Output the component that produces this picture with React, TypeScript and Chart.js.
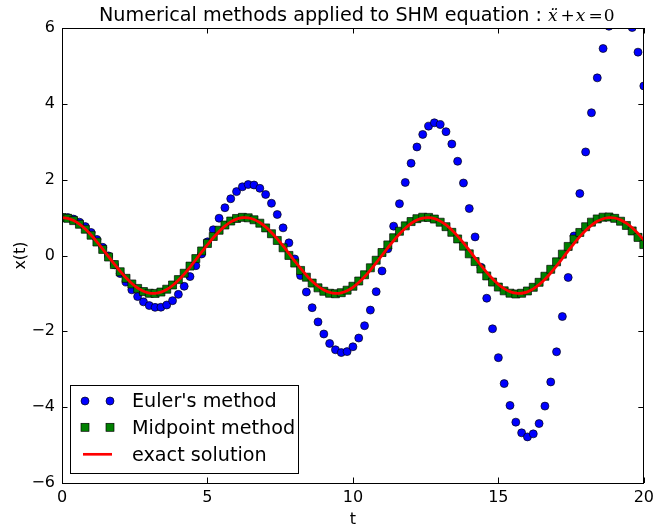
import { useEffect, useRef } from "react";
import { Chart, registerables } from "chart.js";

Chart.register(...registerables);

const tValues = [
  0, 0.2, 0.4, 0.6, 0.8, 1, 1.2, 1.4, 1.6, 1.8, 2, 2.2, 2.4, 2.6, 2.8, 3, 3.2, 3.4, 3.6, 3.8,
  4, 4.2, 4.4, 4.6, 4.8, 5, 5.2, 5.4, 5.6, 5.8, 6, 6.2, 6.4, 6.6, 6.8, 7, 7.2, 7.4, 7.6, 7.8,
  8, 8.2, 8.4, 8.6, 8.8, 9, 9.2, 9.4, 9.6, 9.8, 10, 10.2, 10.4, 10.6, 10.8, 11, 11.2, 11.4, 11.6, 11.8,
  12, 12.2, 12.4, 12.6, 12.8, 13, 13.2, 13.4, 13.6, 13.8, 14, 14.2, 14.4, 14.6, 14.8, 15, 15.2, 15.4, 15.6, 15.8,
  16, 16.2, 16.4, 16.6, 16.8, 17, 17.2, 17.4, 17.6, 17.8, 18, 18.2, 18.4, 18.6, 18.8, 19, 19.2, 19.4, 19.6, 19.8,
  20,
];

const eulerX = [
  1.0, 1.0, 0.96, 0.88, 0.762, 0.608, 0.424, 0.216, -0.01, -0.244,
  -0.477, -0.701, -0.906, -1.083, -1.223, -1.32, -1.368, -1.364, -1.305, -1.191,
  -1.025, -0.811, -0.556, -0.269, 0.04, 0.36, 0.679, 0.983, 1.26, 1.497,
  1.685, 1.812, 1.872, 1.859, 1.772, 1.61, 1.378, 1.081, 0.729, 0.333,
  -0.091, -0.529, -0.963, -1.376, -1.751, -2.07, -2.32, -2.486, -2.56, -2.535,
  -2.407, -2.177, -1.852, -1.44, -0.953, -0.407, 0.176, 0.774, 1.366, 1.926,
  2.433, 2.862, 3.193, 3.411, 3.5, 3.453, 3.266, 2.941, 2.485, 1.912,
  1.239, 0.49, -0.309, -1.127, -1.933, -2.694, -3.378, -3.954, -4.395, -4.677,
  -4.784, -4.704, -4.432, -3.972, -3.335, -2.539, -1.61, -0.579, 0.516, 1.634,
  2.732, 3.765, 4.685, 5.459, 6.045, 6.412, 6.536, 6.404, 6.012, 5.363,
  4.472,
];

const midpointX = [
  1.0, 0.98, 0.92, 0.824, 0.693, 0.535, 0.355, 0.161, -0.04, -0.24,
  -0.429, -0.602, -0.75, -0.868, -0.951, -0.996, -1.0, -0.964, -0.889, -0.778,
  -0.636, -0.468, -0.28, -0.082, 0.12, 0.318, 0.502, 0.666, 0.804, 0.909,
  0.977, 1.006, 0.994, 0.942, 0.852, 0.728, 0.574, 0.397, 0.203, 0.002,
  -0.2, -0.394, -0.572, -0.727, -0.853, -0.944, -0.996, -1.009, -0.981, -0.915,
  -0.811, -0.673, -0.508, -0.324, -0.125, 0.079, 0.28, 0.469, 0.64, 0.782,
  0.895, 0.971, 1.009, 1.005, 0.961, 0.878, 0.76, 0.611, 0.437, 0.246,
  0.044, -0.16, -0.357, -0.539, -0.701, -0.833, -0.932, -0.994, -1.015, -0.996,
  -0.936, -0.839, -0.707, -0.547, -0.364, -0.167, 0.036, 0.239, 0.432, 0.608,
  0.759, 0.88, 0.965, 1.01, 1.016, 0.98, 0.904, 0.793, 0.648, 0.478,
  0.288,
];

const exactX = [
  1.0, 0.98, 0.921, 0.825, 0.697, 0.54, 0.362, 0.17, -0.029, -0.227,
  -0.416, -0.589, -0.737, -0.857, -0.942, -0.99, -0.998, -0.967, -0.897, -0.791,
  -0.654, -0.49, -0.307, -0.112, 0.087, 0.284, 0.469, 0.635, 0.776, 0.886,
  0.96, 0.997, 0.993, 0.95, 0.869, 0.754, 0.608, 0.439, 0.251, 0.054,
  -0.146, -0.339, -0.519, -0.679, -0.811, -0.911, -0.975, -1.0, -0.985, -0.93,
  -0.839, -0.714, -0.561, -0.386, -0.194, 0.004, 0.203, 0.394, 0.568, 0.72,
  0.844, 0.934, 0.986, 0.999, 0.973, 0.907, 0.806, 0.672, 0.512, 0.331,
  0.137, -0.063, -0.26, -0.446, -0.615, -0.76, -0.874, -0.953, -0.994, -0.996,
  -0.958, -0.881, -0.77, -0.628, -0.461, -0.275, -0.079, 0.121, 0.316, 0.498,
  0.66, 0.796, 0.901, 0.969, 0.999, 0.989, 0.939, 0.852, 0.731, 0.581,
  0.408,
];

const xTicks = [0, 5, 10, 15, 20];
const yTicks = [-6, -4, -2, 0, 2, 4, 6];
const seriesLabels = ["Euler's method", "Midpoint method", "exact solution"];
const titleMain = "Numerical methods applied to SHM equation : ";
const xLabel = "t";
const yLabel = "x(t)";

const SANS = "'DejaVu Sans', 'Bitstream Vera Sans', sans-serif";
const SERIF = "'DejaVu Serif', serif";
const BLUE = "#0000ff";
const GREEN = "#008000";
const RED = "#ff0000";

const fmtTick = (v: number) => (v < 0 ? "\u2212" + Math.abs(v) : String(v));

const decorPlugin = {
  id: "decor",
  afterDraw(chart: any) {
    const { ctx, chartArea: a, scales } = chart;
    const xs = scales.x;
    const ys = scales.y;
    ctx.save();

    // frame
    ctx.strokeStyle = "#000";
    ctx.lineWidth = 1;
    ctx.strokeRect(Math.round(a.left) + 0.5, Math.round(a.top) + 0.5, Math.round(a.right - a.left) - 1, Math.round(a.bottom - a.top));

    // inward ticks on all four sides
    const tl = 5.5;
    ctx.beginPath();
    for (const t of xTicks) {
      const px = Math.round(xs.getPixelForValue(t)) + 0.5;
      ctx.moveTo(px, a.bottom);
      ctx.lineTo(px, a.bottom - tl);
      ctx.moveTo(px, a.top);
      ctx.lineTo(px, a.top + tl);
    }
    for (const v of yTicks) {
      const py = Math.round(ys.getPixelForValue(v)) + 0.5;
      ctx.moveTo(a.left, py);
      ctx.lineTo(a.left + tl, py);
      ctx.moveTo(a.right, py);
      ctx.lineTo(a.right - tl, py);
    }
    ctx.stroke();

    // title
    const cx = (a.left + a.right) / 2;
    const titleY = 21;
    ctx.fillStyle = "#000";
    ctx.textBaseline = "alphabetic";
    ctx.textAlign = "left";
    const fMain = `19.2px ${SANS}`;
    const fIt = `italic 17px ${SERIF}`;
    const fUp = `17px ${SERIF}`;
    const pieces: { s: string; f: string; g: number }[] = [
      { s: titleMain, f: fMain, g: 0 },
      { s: "x\u0308", f: fIt, g: 3 },
      { s: "+", f: fUp, g: 1 },
      { s: "x", f: fIt, g: 3 },
      { s: "=", f: fUp, g: 1 },
      { s: "0", f: fUp, g: 0 },
    ];
    let x = a.left + 37;
    for (const p of pieces) {
      ctx.font = p.f;
      ctx.fillText(p.s, x, titleY);
      x += ctx.measureText(p.s).width + p.g;
    }

    // axis labels
    ctx.font = `16px ${SANS}`;
    ctx.textAlign = "center";
    ctx.fillText(xLabel, cx, 524);
    ctx.save();
    ctx.translate(25, (a.top + a.bottom) / 2);
    ctx.rotate(-Math.PI / 2);
    ctx.fillText(yLabel, 0, 0);
    ctx.restore();

    // legend
    const lx = 70.5, ly = 385.5, lw = 228, lh = 88;
    ctx.fillStyle = "#fff";
    ctx.fillRect(lx, ly, lw, lh);
    ctx.strokeStyle = "#000";
    ctx.lineWidth = 1;
    ctx.strokeRect(lx, ly, lw, lh);

    const rows = [401, 427.3, 454.3];
    const baselines = [407, 433.5, 460.5];
    const mx = [85, 110];
    ctx.lineWidth = 0.67;
    ctx.strokeStyle = "#000";
    for (const m of mx) {
      ctx.beginPath();
      ctx.arc(m, rows[0], 4, 0, Math.PI * 2);
      ctx.fillStyle = BLUE;
      ctx.fill();
      ctx.stroke();
    }
    for (const m of mx) {
      ctx.fillStyle = GREEN;
      ctx.fillRect(m - 4, rows[1] - 4, 8, 8);
      ctx.strokeRect(m - 4, rows[1] - 4, 8, 8);
    }
    ctx.strokeStyle = RED;
    ctx.lineWidth = 2.67;
    ctx.beginPath();
    ctx.moveTo(83, rows[2]);
    ctx.lineTo(112, rows[2]);
    ctx.stroke();

    ctx.fillStyle = "#000";
    ctx.font = `19.2px ${SANS}`;
    ctx.textAlign = "left";
    seriesLabels.forEach((s, i) => ctx.fillText(s, 132, baselines[i]));

    ctx.restore();
  },
};

export default function App() {
  const ref = useRef<HTMLCanvasElement | null>(null);

  useEffect(() => {
    if (!ref.current) return;
    const pts = (ys: number[]) => tValues.map((t, i) => ({ x: t, y: ys[i] }));
    const chart = new Chart(ref.current, {
      type: "scatter",
      data: {
        datasets: [
          {
            label: seriesLabels[0],
            data: pts(eulerX),
            showLine: false,
            pointStyle: "circle",
            pointRadius: 4,
            pointBackgroundColor: BLUE,
            pointBorderColor: "#000",
            pointBorderWidth: 0.67,
            clip: 0,
            order: 3,
          },
          {
            label: seriesLabels[1],
            data: pts(midpointX),
            showLine: false,
            pointStyle: "rect",
            pointRadius: 5.66,
            pointBackgroundColor: GREEN,
            pointBorderColor: "#000",
            pointBorderWidth: 0.67,
            clip: 0,
            order: 2,
          },
          {
            label: seriesLabels[2],
            data: pts(exactX),
            showLine: true,
            borderColor: RED,
            borderWidth: 2.8,
            pointRadius: 0,
            tension: 0.4,
            clip: 0,
            order: 1,
          },
        ],
      },
      options: {
        responsive: false,
        animation: false,
        events: [],
        devicePixelRatio: 1,
        layout: { padding: { left: 0, right: 11, top: 28, bottom: 0 } },
        plugins: {
          legend: { display: false },
          title: { display: false },
          tooltip: { enabled: false },
        },
        scales: {
          x: {
            type: "linear",
            min: 0,
            max: 20,
            grid: { display: false, drawTicks: false },
            border: { display: false },
            ticks: {
              stepSize: 5,
              color: "#000",
              padding: 5,
              maxRotation: 0,
              font: { family: SANS, size: 16 },
              callback: (v: any) => fmtTick(Number(v)),
            },
            afterFit: (s: any) => {
              s.height = 45;
            },
          },
          y: {
            type: "linear",
            min: -6,
            max: 6,
            grid: { display: false, drawTicks: false },
            border: { display: false },
            ticks: {
              stepSize: 2,
              color: "#000",
              padding: 7,
              font: { family: SANS, size: 16 },
              callback: (v: any) => fmtTick(Number(v)),
            },
            afterFit: (s: any) => {
              s.width = 62;
            },
          },
        },
      },
      plugins: [decorPlugin],
    });
    return () => chart.destroy();
  }, []);

  return (
    <div style={{ position: "absolute", left: 0, top: 0, width: 659, height: 528, background: "#fff" }}>
      <canvas ref={ref} width={659} height={528} style={{ display: "block", width: 659, height: 528 }} />
    </div>
  );
}
